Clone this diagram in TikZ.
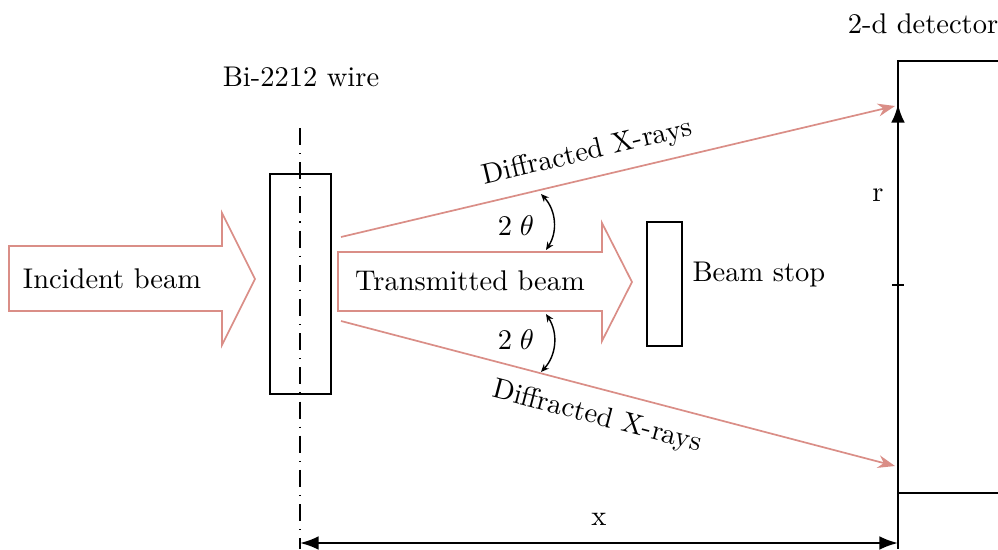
\documentclass[tikz,border=0pt]{standalone}
\usetikzlibrary{arrows.meta,calc}
\definecolor{beam}{RGB}{218,142,135}
\begin{document}
\begin{tikzpicture}[x=0.351pt,y=-0.351pt,
  beamline/.style={draw=beam,line width=0.6pt},
  blk/.style={draw=black,line width=0.7pt},
  lbl/.style={inner sep=0pt,font=\normalsize},
  ray/.style={beam,line width=0.6pt,-{Stealth[length=6pt,width=4.5pt]}},
  angarr/.style={black,line width=0.5pt,{Stealth[length=2.8pt,width=2.4pt]}-{Stealth[length=2.8pt,width=2.4pt]},bend left=38},
  dimarr/.style={black,line width=0.8pt,{Latex[length=6.5pt,width=4.8pt]}-{Latex[length=6.5pt,width=4.8pt]}},
  axisline/.style={black,line width=0.5pt,dash pattern=on 6pt off 2.8pt on 0.4pt off 2.8pt}]
\useasboundingbox (0,0) rectangle (998,549);

% incident beam
\draw[beamline] (9,246) -- (222,246) -- (222,213) -- (255,279) -- (222,345) -- (222,311) -- (9,311) -- cycle;
\node[lbl] (inc) at (112,279) {Incident beam};

% wire
\draw[axisline] (300,128) -- (300,549);
\node[blk,minimum width=61*0.351pt,minimum height=220*0.351pt,inner sep=0pt] (wire) at (300.5,284) {};
\node[lbl] (wirelbl) at (301,77) {Bi-2212 wire};

% transmitted beam
\draw[beamline] (338,252) -- (602,252) -- (602,223) -- (632,282) -- (602,341) -- (602,311) -- (338,311) -- cycle;
\node[lbl] (trans) at (470,281) {Transmitted beam};

% beam stop
\node[blk,minimum width=35*0.351pt,minimum height=124*0.351pt,inner sep=0pt] (stop) at (664.5,284) {};
\node[lbl,anchor=west] (stoplbl) at (692,275) {Beam stop};

% detector
\draw[blk] (1010,61) -- (898,61) -- (898,493) -- (1010,493);
\node[lbl] (detlbl) at (923,24) {2-d detector};

% rays
\coordinate (s1) at (341,237);
\coordinate (e1) at (895,106);
\coordinate (s2) at (341,321);
\coordinate (e2) at (895,466);
\draw[ray] (s1) -- node[pos=0.455,above=4pt,sloped,lbl,text=black] (d1) {Diffracted X-rays} (e1);
\draw[ray] (s2) -- node[pos=0.475,below=5pt,sloped,lbl,text=black] (d2) {Diffracted X-rays} (e2);

% angles
\coordinate (a1) at (541,194);
\coordinate (b1) at (546,250);
\coordinate (a2) at (546,314);
\coordinate (b2) at (541,372);
\draw[angarr] (a1) to (b1);
\draw[angarr] (a2) to (b2);
\node[lbl] (t1) at (516,226) {$2\;\theta$};
\node[lbl] (t2) at (516,340) {$2\;\theta$};

% r arrow
\coordinate (r0) at (898,285);
\coordinate (r1) at (898,104);
\draw[black,line width=1pt,-{Latex[length=6.5pt,width=4.8pt]}] (r0) -- (r1);
\draw[black,line width=0.6pt] (892,285) -- (904,285);
\node[lbl] (rl) at (878,195) {r};

% x dimension
\coordinate (xa) at (300,543);
\coordinate (xb) at (898,543);
\draw[black,line width=0.5pt] (898,493) -- (898,549);
\draw[dimarr] (xa) -- (xb);
\node[lbl] (xl) at (599,519) {x};
\end{tikzpicture}
\end{document}
